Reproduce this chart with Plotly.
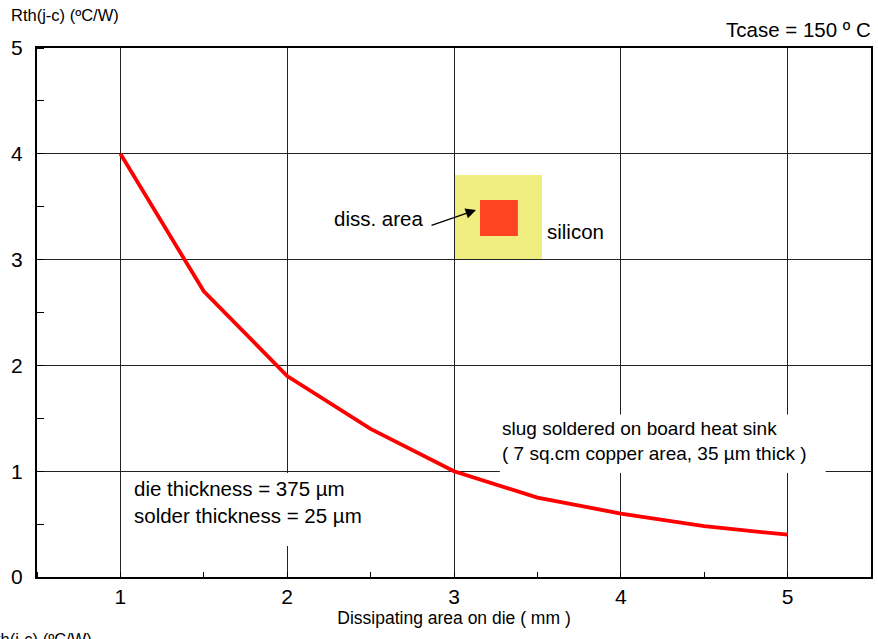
import plotly.graph_objects as go

# Data
area_mm = [1, 1.5, 2, 2.5, 3, 3.5, 4, 4.5, 5]
rth = [4.0, 2.7, 1.9, 1.4, 1.0, 0.75, 0.6, 0.48, 0.4]
x_ticks = [1, 2, 3, 4, 5]
y_ticks = [0, 1, 2, 3, 4, 5]

FONT = "Liberation Sans, Arial, sans-serif"

fig = go.Figure()
fig.add_trace(go.Scatter(x=area_mm, y=rth, mode="lines",
                         line=dict(color="#FF0000", width=3.8),
                         showlegend=False, hoverinfo="skip"))

# silicon + dissipating-area squares
fig.add_shape(type="rect", x0=3.0, x1=3.527, y0=3.0, y1=3.80, xref="x", yref="y",
              fillcolor="#F0EE80", line=dict(width=0), layer="below")
fig.add_shape(type="rect", x0=3.156, x1=3.383, y0=3.223, y1=3.563, xref="x", yref="y",
              fillcolor="#FF4422", line=dict(width=0), layer="below")
# white boxes behind the notes (hide grid lines)
fig.add_shape(type="rect", x0=3.275, x1=5.228, y0=0.983, y1=1.535, xref="x", yref="y",
              fillcolor="white", line=dict(width=0), layer="between")
fig.add_shape(type="rect", x0=1.015, x1=2.5, y0=0.293, y1=0.983, xref="x", yref="y",
              fillcolor="white", line=dict(width=0), layer="between")

ann = []
def txt(x, y, s, size=19, xanchor="left", xref="x", yref="y", yanchor="middle"):
    ann.append(dict(x=x, y=y, text=s, xref=xref, yref=yref, showarrow=False,
                    xanchor=xanchor, yanchor=yanchor,
                    font=dict(family=FONT, size=size, color="black")))

txt(2.268, 3.393, "diss. area", size=20.5)
txt(3.545, 3.27, "silicon", size=20.5)
txt(3.275, 1.408, "slug soldered on board heat sink", size=19)
txt(3.275, 1.163, "( 7 sq.cm copper area, 35 µm thick )", size=19)
txt(1.07, 0.832, "die thickness = 375 µm", size=20.5)
txt(1.07, 0.577, "solder thickness = 25 µm", size=20.5)

W, H = 878, 639
L, R, T, B = 37, 5, 48, 62
pw, ph = W - L - R, H - T - B
def px(xp):
    return (xp - L) / pw
def py(yp):
    return (H - B - yp) / ph

txt(px(9), py(15), "Rth(j-c) (ºC/W)", size=16.5, xref="paper", yref="paper")
txt(px(-18), py(628), "Rth(j-c) (ºC/W)", size=16.5, xref="paper", yref="paper", yanchor="top")
txt(px(875), py(30), "Tcase = 150 º C", size=20.5, xanchor="right", xref="paper", yref="paper")

ann.append(dict(x=3.132, y=3.469, ax=2.856, ay=3.318, xref="x", yref="y",
                axref="x", ayref="y", text="", showarrow=True,
                arrowhead=2, arrowsize=1.6, arrowwidth=1.3, arrowcolor="black"))

fig.update_layout(
    width=W, height=H,
    margin=dict(l=L, r=R, t=T, b=B),
    paper_bgcolor="white", plot_bgcolor="white",
    font=dict(family=FONT, color="black"),
    annotations=ann,
    xaxis=dict(range=[0.5, 5.5], tickvals=x_ticks, ticktext=[str(v) for v in x_ticks],
               showgrid=True, gridcolor="#222", gridwidth=1,
               showline=True, linecolor="black", linewidth=2, mirror=True,
               ticks="", zeroline=False,
               minor=dict(dtick=0.5, tick0=0, ticks="inside", ticklen=5,
                          tickcolor="black", showgrid=False),
               tickfont=dict(size=21),
               title=dict(text="Dissipating area on die ( mm )", font=dict(size=17.5),
                          standoff=4)),
    yaxis=dict(range=[0, 5], tickvals=y_ticks, ticktext=[str(v) for v in y_ticks],
               showgrid=True, gridcolor="#222", gridwidth=1,
               showline=True, linecolor="black", linewidth=2, mirror=True,
               ticks="", zeroline=False,
               minor=dict(dtick=0.5, tick0=0, ticks="inside", ticklen=7,
                          tickcolor="black", showgrid=False),
               tickfont=dict(size=21), ticklabelstandoff=8),
)

fig.write_html("out.html", config={"displayModeBar": False},
               post_script="document.body.style.margin='0';document.body.style.overflow='hidden';")
